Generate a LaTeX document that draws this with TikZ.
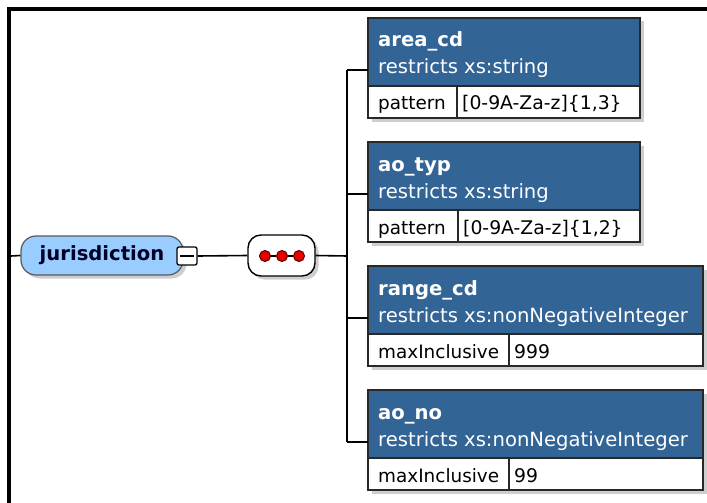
\documentclass[tikz,border=0pt]{standalone}
\usepackage{fontspec}
\setmainfont{DejaVu Sans}
\usetikzlibrary{shadows}
\definecolor{hdr}{RGB}{50,100,150}
\definecolor{jurfill}{RGB}{153,204,255}
\definecolor{dotred}{RGB}{235,0,0}
\definecolor{edge}{RGB}{40,40,40}
\newcommand\xsdbox[8]{%
  \node[boxout, minimum width=#3pt, anchor=north west] (#1) at (368,#2) {};
  \node[hdrbox, minimum width=#3pt, anchor=north west] (#1-h) at (368,#2) {};
  \node[txt, font=\fontsize{19.6}{22}\selectfont\bfseries, text=white] (#1-t) at (378,{#2+29}) {#5};
  \node[txt, text=white] (#1-s) at (378,{#2+56}) {restricts xs:#8};
  \node[txt, font=\fontsize{18.4}{22}\selectfont] (#1-k) at (378,{#2+92}) {#6};
  \node[txt, font=\fontsize{18.8}{22}\selectfont] (#1-v) at ({#4+5},{#2+92}) {#7};
  \draw[edge, line width=1.2pt] (#4,{#2+68}) -- (#4,{#2+100});
  \coordinate (#1-c) at (368,{#2+52});
}
\begin{document}
\begin{tikzpicture}[x=1pt,y=-1pt,
  shd/.style={drop shadow={shadow xshift=3.5pt,shadow yshift=-3.5pt,opacity=0.35,fill=black!55}},
  txt/.style={inner sep=0pt, anchor=base west, font=\fontsize{19.6}{22}\selectfont},
  boxout/.style={draw=edge, line width=1.2pt, fill=white, shd, minimum height=100pt, inner sep=0pt, outer sep=0pt},
  hdrbox/.style={draw=edge, line width=1.2pt, fill=hdr, minimum height=68pt, inner sep=0pt, outer sep=0pt},
  conn/.style={line width=1.6pt, black},
  dot/.style={circle, fill=dotred, draw=red!35!black, line width=1pt, minimum size=11pt, inner sep=0pt},
  frame/.style={line width=4.3pt, black}]
\useasboundingbox (0,0) rectangle (707,503);
% frame
\coordinate (fl) at (9,503);
\coordinate (fc) at (9,8.8);
\coordinate (fr) at (707,8.8);
\draw[frame] (fl) -- (fc) -- (fr);
% jurisdiction element
\node[draw=black!65, line width=1.2pt, fill=jurfill, shd, rounded corners=15pt,
      minimum width=162pt, minimum height=39pt, inner sep=0pt,
      font=\fontsize{19.6}{22}\selectfont\bfseries, text=black!85!blue] (jur) at (102,255.5) {jurisdiction};
\node[draw=black, line width=1.3pt, fill=white, rounded corners=2pt,
      minimum width=20pt, minimum height=18pt, inner sep=0pt] (minus) at (187,256) {};
\draw[line width=1.3pt] ([xshift=4pt]minus.west) -- ([xshift=-4pt]minus.east);
% sequence compositor
\node[draw=black, line width=1.4pt, fill=white, shd, rounded corners=13pt,
      minimum width=67pt, minimum height=41pt, inner sep=0pt] (seq) at (281.5,255.5) {};
\node[dot] (d1) at (265,256) {};
\node[dot] (d2) at (282,256) {};
\node[dot] (d3) at (299,256) {};
\draw[line width=2pt] (d1) -- (d2) (d2) -- (d3);
% child boxes
\xsdbox{area}{18}{272}{457}{area\_cd}{pattern}{[0-9A-Za-z]\{1,3\}}{string}
\xsdbox{aotyp}{142}{272}{458}{ao\_typ}{pattern}{[0-9A-Za-z]\{1,2\}}{string}
\xsdbox{range}{266}{335}{509}{range\_cd}{maxInclusive}{999}{nonNegativeInteger}
\xsdbox{aono}{390}{335}{509}{ao\_no}{maxInclusive}{99}{nonNegativeInteger}
% connectors
\coordinate (lin) at (11,256);
\coordinate (bus) at (347,256);
\draw[conn] (lin) -- (jur.west);
\draw[conn] (minus.east) -- (seq.west);
\draw[conn] (seq.east) -- (bus);
\draw[conn] (bus |- area-c) -- (bus |- aono-c);
\draw[conn] (bus |- area-c) -- (area-c);
\draw[conn] (bus |- aotyp-c) -- (aotyp-c);
\draw[conn] (bus |- range-c) -- (range-c);
\draw[conn] (bus |- aono-c) -- (aono-c);
\end{tikzpicture}
\end{document}
